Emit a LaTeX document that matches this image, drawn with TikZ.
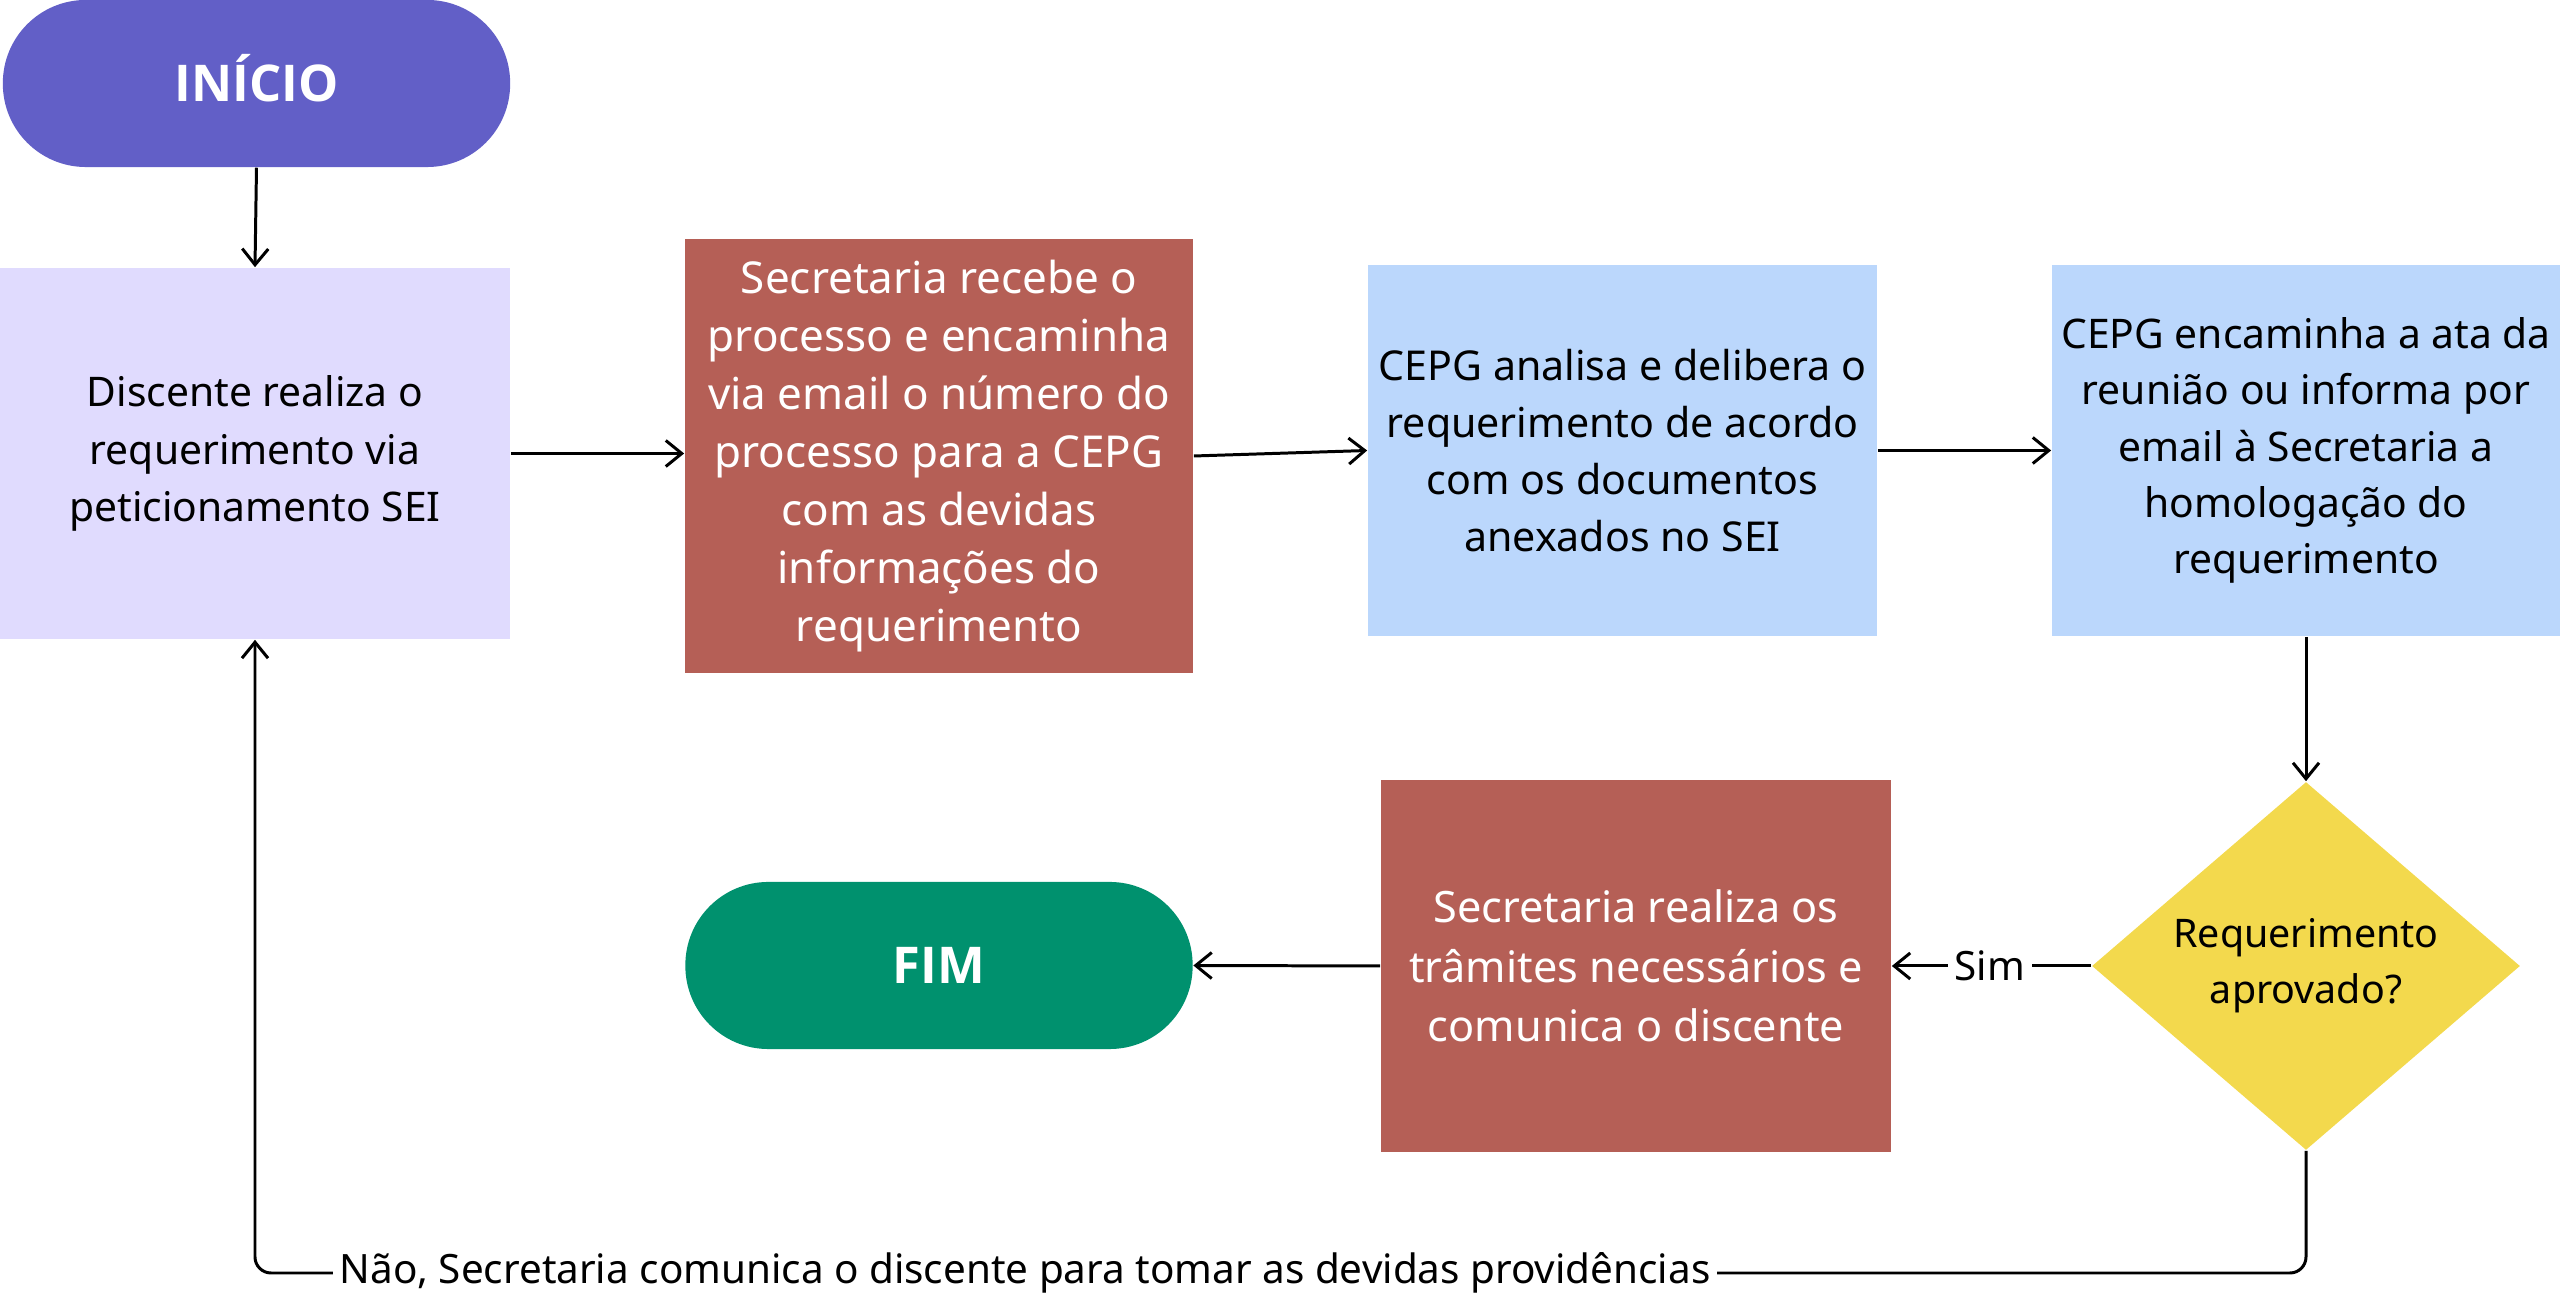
\documentclass[tikz,border=0pt]{standalone}
\usepackage{fontspec}
\setmainfont{Noto Sans}
\newfontfamily\termfont{Open Sans}
\usetikzlibrary{arrows.meta,shapes.geometric}
\definecolor{cstart}{HTML}{625FC7}
\definecolor{clav}{HTML}{E0DBFE}
\definecolor{cbrown}{HTML}{B55F56}
\definecolor{cblue}{HTML}{BBD7FC}
\definecolor{cyel}{HTML}{F3D94D}
\definecolor{cgreen}{HTML}{00916E}
\tikzset{
  term/.style={rounded corners=0.83cm, minimum width=5.07cm, minimum height=1.67cm, text=white, font=\termfont\bfseries\fontsize{14.4}{17}\selectfont, inner sep=0pt, text height=10.3pt, text depth=0pt},
  box/.style={minimum width=5.09cm, minimum height=3.71cm, align=center, inner sep=2pt},
  conn/.style={line width=0.85pt, -{Straight Barb[length=1.6mm,width=2.6mm,line width=0.85pt]}},
  lbl/.style={fill=white, inner xsep=2pt, inner ysep=1pt, font=\fontsize{11.5}{14}\selectfont}
}
\begin{document}
\begin{tikzpicture}[x=0.01cm,y=-0.01cm]
\useasboundingbox (0,0) rectangle (2562,1310);
\node[term, fill=cstart] (start) at (256.5,83.5) {INÍCIO};
\node[box, fill=clav, minimum width=5.1cm, font=\fontsize{11.6}{16.3}\selectfont] (disc) at (255,453.5) {Discente realiza o\\requerimento via\\peticionamento SEI};
\node[box, fill=cbrown, text=white, minimum width=5.08cm, minimum height=4.33cm, font=\fontsize{12.5}{16.5}\selectfont] (sec1) at (939,456) {Secretaria recebe o\\processo e encaminha\\via email o número do\\processo para a CEPG\\com as devidas\\informações do\\requerimento};
\node[box, fill=cblue, font=\fontsize{11.7}{16.2}\selectfont] (cepg1) at (1622.5,450.5) {CEPG analisa e delibera o\\requerimento de acordo\\com os documentos\\anexados no SEI};
\node[box, fill=cblue, minimum width=5.08cm, font=\fontsize{11.6}{16}\selectfont] (cepg2) at (2306,450.5) {CEPG encaminha a ata da\\reunião ou informa por\\email à Secretaria a\\homologação do\\requerimento};
\node[diamond, fill=cyel, minimum width=4.28cm, minimum height=3.68cm, inner sep=0pt, align=center, font=\fontsize{11.2}{16}\selectfont] (dec) at (2306,966) {Requerimento\\aprovado?};
\node[box, fill=cbrown, text=white, minimum width=5.1cm, minimum height=3.72cm, font=\fontsize{12.3}{17}\selectfont] (sec2) at (1636,966) {Secretaria realiza os\\trâmites necessários e\\comunica o discente};
\node[term, fill=cgreen] (fim) at (939,965.5) {FIM};
\coordinate (lb) at (255,1273);
\draw[conn] (start.south) -- (disc.north);
\draw[conn] (disc.east) -- (sec1.west |- disc.east);
\draw[conn] (sec1.east) -- (cepg1.west);
\draw[conn] (cepg1.east) -- (cepg2.west);
\draw[conn] (cepg2.south) -- (dec.north);
\draw[conn] (dec.west) -- (sec2.east);
\draw[conn] (sec2.west) -- (fim.east);
\draw[conn, rounded corners=0.16cm] (dec.south) |- (lb) -- (disc.south);
\node[lbl] (sim) at (1990,966) {Sim};
\node[lbl] (nao) at (1025,1273) {Não, Secretaria comunica o discente para tomar as devidas providências};
\end{tikzpicture}
\end{document}
